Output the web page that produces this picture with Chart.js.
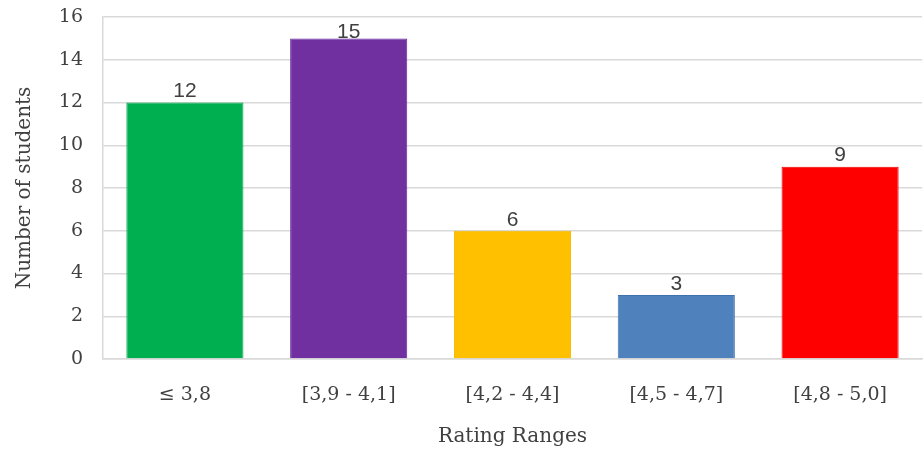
<!DOCTYPE html>
<html>
<head>
<meta charset="utf-8">
<script src="https://cdn.jsdelivr.net/npm/chart.js@4/dist/chart.umd.min.js"></script>
<style>
  html, body { margin: 0; padding: 0; background: #ffffff; }
  #wrap { width: 924px; height: 457px; position: relative; }
</style>
</head>
<body>
<div id="wrap"><canvas id="c"></canvas></div>
<script>
// Rating ranges and how many students fall into each
const categories = ['\u2264 3,8', '[3,9 - 4,1]', '[4,2 - 4,4]', '[4,5 - 4,7]', '[4,8 - 5,0]'];
const students = [12, 15, 6, 3, 9];
const barColors = ['#00B050', '#7030A0', '#FFC000', '#4F81BD', '#FF0000'];
const barBorders = ['#00A84A', '#6426A0', '#F5B800', '#3F71AE', '#F00000'];
const yTicks = [0, 2, 4, 6, 8, 10, 12, 14, 16];

const serif = '"DejaVu Serif", "Liberation Serif", serif';
const textColor = '#404040';

// Writes each bar's value just above it, kept inside the plot area
const valueLabels = {
  id: 'valueLabels',
  afterDatasetsDraw(chart) {
    const ctx = chart.ctx;
    const meta = chart.getDatasetMeta(0);
    const area = chart.chartArea;
    ctx.save();
    ctx.font = '21px "Liberation Sans", Arial, sans-serif';
    ctx.fillStyle = textColor;
    ctx.textAlign = 'center';
    ctx.textBaseline = 'middle';
    meta.data.forEach((bar, i) => {
      const v = chart.data.datasets[0].data[i];
      const y = Math.max(bar.y - 11, area.top + 15);
      ctx.fillText(String(v), bar.x, y);
    });
    ctx.restore();
  }
};

new Chart(document.getElementById('c'), {
  type: 'bar',
  data: {
    labels: categories,
    datasets: [{
      data: students,
      backgroundColor: barColors,
      borderColor: barBorders,
      borderWidth: 1,
      categoryPercentage: 0.715,
      barPercentage: 1.0
    }]
  },
  options: {
    responsive: true,
    maintainAspectRatio: false,
    animation: false,
    layout: { padding: { top: 17, right: 2, left: 0, bottom: 0 } },
    plugins: {
      legend: { display: false },
      tooltip: { enabled: false }
    },
    scales: {
      x: {
        grid: { display: false, drawTicks: false },
        border: { display: true, color: '#D9D9D9', width: 1.5 },
        ticks: {
          color: textColor,
          font: { family: serif, size: 19 },
          padding: 25,
          maxRotation: 0
        },
        title: {
          display: true,
          text: 'Rating Ranges',
          color: textColor,
          font: { family: serif, size: 20 },
          padding: { top: 0, bottom: 8 }
        },
        afterFit(scale) {
          scale.height = 98;
          scale.paddingLeft = 0;
          scale.paddingRight = 0;
        }
      },
      y: {
        min: 0,
        max: 16,
        afterBuildTicks(scale) { scale.ticks = yTicks.map(v => ({ value: v })); },
        grid: { color: '#D9D9D9', lineWidth: 1.5, drawTicks: false },
        border: { display: true, color: '#D9D9D9', width: 1.5 },
        ticks: {
          color: textColor,
          font: { family: serif, size: 19 },
          padding: 20
        },
        title: {
          display: true,
          text: 'Number of students',
          color: textColor,
          font: { family: serif, size: 20 },
          padding: { top: 13, bottom: 0 }
        },
        afterFit(scale) {
          scale.width = 103;
          scale.paddingTop = 0;
          scale.paddingBottom = 0;
        }
      }
    }
  },
  plugins: [valueLabels]
});
</script>
</body>
</html>
